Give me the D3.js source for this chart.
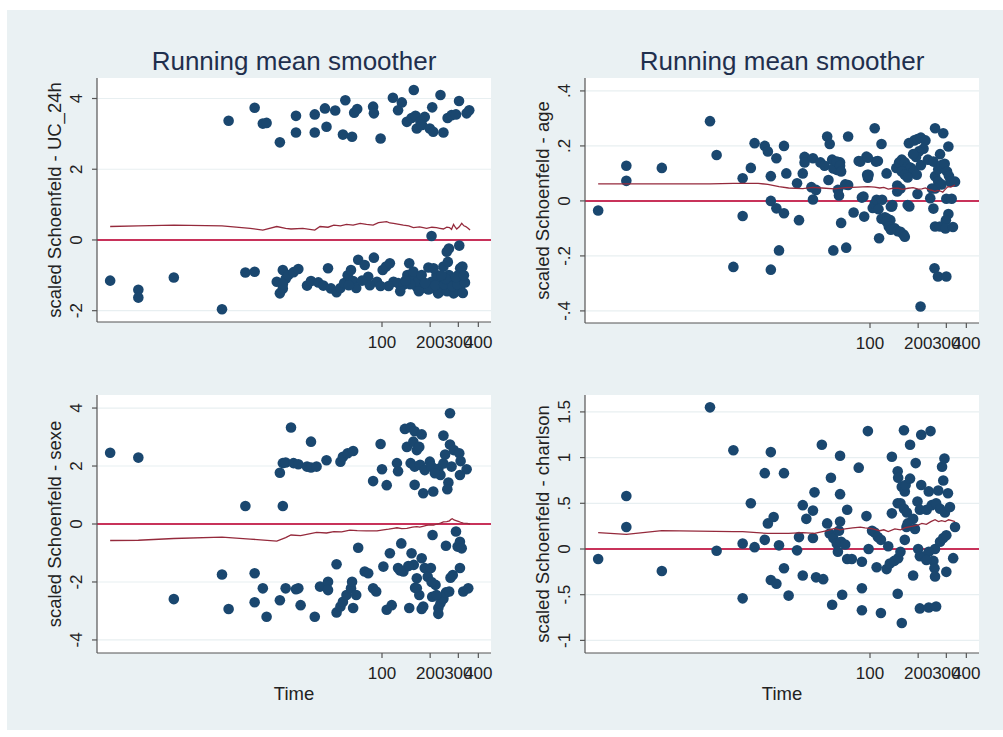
<!DOCTYPE html>
<html>
<head>
<meta charset="utf-8">
<script src="https://cdn.jsdelivr.net/npm/d3@7"></script>
<style>
html, body { margin: 0; padding: 0; background: #fff; }
svg { display: block; font-family: "Liberation Sans", Arial, Helvetica, sans-serif; }
</style>
</head>
<body>
<svg id="chart" width="1003" height="737"></svg>
<script>
// ---- data: [time, scaled Schoenfeld residual] ----
var ucPoints = [
  [2,-1.15],[3,-1.41],[3,-1.63],[5,-1.06],[10,-1.96],[11,3.37],[14,-0.92],[16,-0.9],[16,3.74],[18,3.29],[19,3.31],
  [23,2.76],[29,3.51],[29,3.04],[38,3.55],[38,3.04],[44,3.72],[45,3.2],[51,3.66],[59,3.95],[57,2.98],[65,2.92],
  [67,3.6],[70,3.7],[88,3.77],[89,3.58],[98,2.87],[117,4.02],[133,3.89],[126,3.67],[158,4.24],[143,3.34],[153,3.45],
  [162,3.51],[165,3.15],[174,3.34],[185,3.48],[178,3.25],[206,3.75],[232,4.1],[199,3.15],[209,3.06],[242,3.04],
  [257,3.45],[272,3.53],[290,3.55],[303,3.93],[338,3.58],[351,3.67],
  [24,-0.85],[22,-1.18],[24,-1.37],[23,-1.51],[25,-1.1],[26,-0.99],[28,-0.91],[30,-0.82],[24,-1.25],[34,-1.29],
  [36,-1.16],[40,-1.2],[43,-1.29],[46,-0.8],[48,-1.37],[52,-1.48],[55,-1.36],[58,-1.22],[61,-1.0],[64,-0.85],
  [66,-1.16],[69,-1.36],[71,-0.56],[78,-0.71],[82,-1.04],[89,-0.5],[93,-1.18],[101,-0.85],[106,-0.75],[112,-0.66],
  [118,-1.18],[126,-1.22],[136,-1.27],[148,-0.66],[144,-0.99],[157,-1.08],[157,-0.89],[165,-1.32],[168,-1.18],
  [177,-0.99],[181,-1.36],[195,-0.78],[204,-1.18],[204,0.11],[210,-1.36],[219,-0.99],[224,-1.51],[232,-1.18],
  [237,-1.36],[242,-0.75],[254,-0.33],[262,-0.24],[258,-0.62],[262,-0.99],[266,-1.36],[272,-1.18],[280,-1.51],
  [304,-0.16],[308,-0.8],[312,-1.18],[318,-0.75],[308,-1.36],[300,-0.99],
  [130,-1.45],[170,-1.45],[195,-1.4],[228,-1.48],[255,-1.45],[285,-1.48],[320,-1.5],[110,-1.3],[150,-1.25],
  [186,-1.22],[215,-1.28],[245,-1.25],[275,-1.3],[296,-1.25],[330,-1.2],[315,-0.77],[210,-0.8],[250,-1.1],
  [290,-1.05],[325,-1.0],[235,-1.0],[140,-1.15],[98,-1.3],[84,-1.28],[75,-1.15],[62,-1.28]
];
var ucMean = [
  [2,0.38],[3,0.40],[5,0.42],[10,0.40],[15,0.33],[18,0.28],[22,0.38],[25,0.33],[27,0.31],[32,0.33],[38,0.28],
  [41,0.38],[46,0.36],[50,0.42],[55,0.40],[60,0.44],[66,0.42],[73,0.47],[80,0.44],[88,0.42],[95,0.49],[107,0.52],
  [112,0.48],[118,0.47],[128,0.44],[136,0.42],[147,0.40],[157,0.35],[172,0.37],[190,0.33],[205,0.36],[219,0.35],
  [230,0.33],[242,0.31],[254,0.36],[264,0.35],[272,0.30],[280,0.44],[287,0.36],[293,0.31],[304,0.37],[315,0.47],
  [325,0.40],[334,0.38],[345,0.33],[355,0.28]
];

var agePoints = [
  [2,-0.035],[3,0.128],[3,0.073],[5,0.12],[10,0.29],[11,0.167],[14,-0.24],[16,0.082],[16,-0.055],[18,0.12],
  [19,0.21],[22,0.2],[23,0.18],[24,0.09],[24,0.0],[24,-0.25],[26,0.155],[26,-0.027],[27,-0.18],[29,0.2],
  [29,-0.045],[30,0.1],[35,0.064],[36,-0.07],[38,0.1],[39,0.16],[39,0.14],[44,0.155],[43,0.05],[44,0.005],
  [46,0.04],[49,0.14],[52,0.128],[54,0.234],[56,0.207],[55,0.076],[59,-0.18],[58,0.15],[62,0.113],[63,0.04],
  [64,0.02],[65,0.14],[66,-0.08],[71,-0.17],[73,0.058],[73,0.234],[79,-0.042],[87,0.143],[91,0.016],[92,-0.057],
  [95,0.161],[96,0.095],[97,0.084],[107,0.264],[109,0.143],[104,-0.026],[107,-0.01],[110,0.004],[114,-0.136],
  [118,0.207],[119,0.004],[127,0.1],[127,-0.063],[137,-0.02],[134,-0.07],
  [113,-0.03],[118,-0.065],[124,-0.06],[127,-0.075],[131,-0.093],[135,-0.105],[143,-0.1],[149,-0.11],[155,-0.112],
  [162,-0.122],[165,-0.13],[135,-0.02],[138,-0.015],[148,0.034],[148,0.056],[155,0.045],[146,0.12],[152,0.14],
  [158,0.15],[165,0.14],[172,0.125],[180,0.12],[188,0.11],[196,0.095],[158,0.107],[165,0.095],[172,0.085],
  [172,-0.015],[176,-0.02],[198,0.025],[175,0.21],[189,0.22],[198,0.225],[208,0.23],[222,0.22],[216,0.19],
  [202,0.18],[194,0.16],[186,0.17],[208,0.13],[230,0.15],[249,0.143],[255,0.264],[287,0.246],[255,0.09],
  [267,0.115],[280,0.13],[293,0.135],[303,0.107],[312,0.09],[318,0.07],[340,0.07],[274,0.17],[309,0.198],
  [267,0.07],[280,0.06],[255,0.045],[244,0.045],[238,0.01],[249,-0.028],[300,0.008],[324,0.008],[309,-0.048],
  [298,-0.07],[255,-0.093],[274,-0.093],[296,-0.1],[330,-0.095],[253,-0.245],[266,-0.275],[300,-0.275],[207,-0.384],
  [59,0.118],[62,0.143],[65,0.128],[66,0.107],[70,0.06],[89,0.012],[85,0.145],[97,0.157],[98,0.095],[112,0.145]
];
var ageMean = [
  [2,0.062],[10,0.062],[14,0.064],[20,0.064],[23,0.06],[27,0.052],[31,0.047],[38,0.045],[44,0.049],[50,0.047],
  [60,0.044],[70,0.048],[84,0.05],[97,0.052],[107,0.05],[115,0.047],[122,0.049],[130,0.043],[140,0.046],
  [150,0.046],[160,0.042],[173,0.046],[186,0.048],[200,0.043],[211,0.044],[222,0.047],[235,0.04],[245,0.038],
  [255,0.034],[265,0.038],[275,0.036],[285,0.032],[295,0.042],[307,0.052],[320,0.05],[340,0.058]
];

var sexePoints = [
  [2,2.46],[3,2.29],[5,-2.59],[10,-1.74],[11,-2.93],[14,0.62],[16,-1.7],[18,-2.22],[16,-2.7],[19,-3.2],[23,-2.63],
  [25,-2.22],[30,-2.22],[31,-2.8],[38,-3.2],[27,3.33],[36,2.84],[23,1.77],[24,0.62],[24,2.1],[25,2.12],[28,2.1],
  [30,2.06],[34,1.98],[36,1.95],[39,1.98],[45,2.2],[55,2.15],[57,2.32],[61,2.44],[66,2.52],[98,2.76],[88,1.48],
  [100,1.89],[107,1.34],[124,2.1],[126,1.82],[139,3.28],[151,3.34],[160,3.2],[177,3.09],[143,2.66],[157,2.84],
  [165,2.55],[171,2.66],[151,2.1],[160,1.98],[173,2.04],[185,1.86],[199,2.15],[204,1.98],[160,1.35],[181,1.06],
  [209,1.12],[225,1.9],[242,2.09],[248,2.4],[266,2.74],[281,2.55],[304,2.44],[310,2.17],[272,1.98],[260,1.43],
  [256,1.2],[242,3.05],[266,3.82],[338,1.89],[307,1.69],[232,1.69],[214,1.75],
  [29,-2.25],[41,-2.16],[46,-1.99],[46,-2.28],[52,-1.39],[52,-3.05],[55,-2.85],[57,-2.68],[60,-2.45],[64,-2.22],
  [65,-1.99],[66,-2.9],[69,-2.45],[71,-0.82],[78,-1.64],[82,-1.7],[88,-2.22],[92,-2.33],[102,-1.47],[107,-2.96],
  [115,-2.8],[112,-1.01],[132,-0.67],[136,-1.64],[148,-2.9],[153,-1.01],[158,-1.41],[165,-1.87],[165,-2.22],
  [171,-2.45],[177,-1.18],[181,-2.85],[185,-1.52],[193,-1.82],[202,-1.52],[206,-2.51],[207,-0.38],[216,-2.1],
  [225,-2.9],[232,-2.73],[242,-2.58],[251,-2.36],[251,-0.75],[263,-2.33],[268,-1.85],[277,-1.76],[290,-0.26],
  [297,-0.78],[307,-0.61],[315,-0.84],[307,-1.52],[322,-2.33],[346,-2.22],[219,-2.45],[204,-2.0],[161,-2.2],
  [146,-1.45],[126,-1.52],[130,-1.6],[177,-2.93],[225,-3.1]
];
var sexeMean = [
  [2,-0.57],[3,-0.56],[5,-0.5],[10,-0.45],[15,-0.52],[22,-0.59],[25,-0.47],[27,-0.38],[31,-0.4],[39,-0.29],
  [45,-0.31],[50,-0.26],[56,-0.27],[63,-0.21],[70,-0.23],[80,-0.24],[93,-0.24],[102,-0.2],[110,-0.18],[118,-0.15],
  [124,-0.13],[133,-0.16],[143,-0.15],[155,-0.11],[165,-0.09],[172,-0.11],[180,-0.08],[190,-0.05],[200,-0.03],
  [210,-0.04],[221,0.0],[232,0.03],[242,0.07],[254,0.08],[264,0.11],[270,0.16],[275,0.18],[282,0.14],[290,0.12],
  [300,0.09],[310,0.06],[322,0.03],[340,0.02],[355,0.0]
];

var charlsonPoints = [
  [2,-0.11],[3,0.58],[3,0.24],[5,-0.24],[10,1.55],[11,-0.02],[14,1.08],[18,0.5],[16,0.06],[19,0.02],[16,-0.54],
  [24,1.06],[22,0.83],[29,0.83],[23,0.28],[25,0.35],[22,0.1],[27,0.04],[24,-0.34],[26,-0.38],[29,-0.21],[31,-0.51],
  [35,-0.015],[36,0.13],[38,0.48],[40,0.33],[44,0.42],[45,0.62],[38,-0.29],[44,0.12],[46,-0.31],[51,-0.33],
  [50,1.14],[57,0.78],[54,0.28],[56,0.17],[59,0.12],[62,0.06],[63,-0.03],[58,-0.61],[65,1.02],[65,0.6],[65,0.3],
  [64,0.2],[67,-0.5],[72,0.43],[66,0.08],[70,0.05],[72,-0.11],[77,-0.11],[85,0.89],[89,-0.14],[89,-0.43],
  [89,-0.67],[97,1.29],[95,0.36],[98,0.0],[103,0.2],[107,0.18],[112,0.13],[117,0.1],[110,-0.2],[117,-0.7],
  [127,-0.22],[133,-0.16],[142,-0.13],[150,-0.1],[130,0.03],[137,1.01],[149,0.85],[150,0.78],[158,0.68],
  [165,0.63],[149,0.5],[155,0.5],[163,0.44],[170,0.4],[137,0.39],[149,-0.49],[155,-0.03],[165,0.1],[158,-0.81],
  [163,1.3],[178,1.14],[193,0.94],[209,1.25],[239,1.29],[167,0.7],[178,0.77],[186,0.33],[191,0.22],[169,0.24],
  [172,0.28],[209,0.7],[198,0.52],[205,0.43],[200,0.0],[205,-0.08],[220,-0.08],[186,-0.29],[205,-0.65],
  [233,-0.64],[259,-0.63],[226,0.43],[243,0.48],[259,0.5],[274,0.44],[294,0.4],[316,0.46],[233,0.63],[267,0.64],
  [287,0.75],[282,0.9],[292,0.99],[307,0.61],[255,0.0],[274,0.08],[287,0.12],[300,0.15],[249,-0.13],[233,-0.03],
  [225,-0.12],[253,-0.21],[255,-0.3],[331,-0.1],[300,-0.25],[340,0.24]
];
var charlsonMean = [
  [2,0.18],[3,0.16],[5,0.2],[14,0.19],[16,0.19],[23,0.17],[31,0.17],[38,0.18],[45,0.17],[54,0.2],[60,0.225],
  [65,0.21],[70,0.22],[78,0.23],[87,0.24],[93,0.23],[100,0.225],[107,0.215],[115,0.2],[122,0.21],[130,0.19],
  [143,0.22],[155,0.21],[165,0.23],[173,0.24],[186,0.25],[198,0.26],[211,0.28],[225,0.27],[240,0.3],[255,0.32],
  [268,0.3],[280,0.31],[295,0.3],[310,0.32],[325,0.31],[340,0.3]
];

// axis ticks
var timeTicks = [100, 200, 300, 400];
var ucTicks = [-2, 0, 2, 4];
var ageTicks = [-0.4, -0.2, 0, 0.2, 0.4];
var sexeTicks = [-4, -2, 0, 2, 4];
var charlsonTicks = [-1, -0.5, 0, 0.5, 1, 1.5];

var titleText = "Running mean smoother";
var timeLabel = "Time";

// ---- layout ----
var panels = [
  {ylab: "scaled Schoenfeld - UC_24h", pts: ucPoints, mean: ucMean, ticks: ucTicks, ydom: [-2.32, 4.58],
   left: 97, top: 78, bottom: 322, title: true, xtitle: false},
  {ylab: "scaled Schoenfeld - age", pts: agePoints, mean: ageMean, ticks: ageTicks, ydom: [-0.444, 0.447],
   left: 585, top: 78, bottom: 323, title: true, xtitle: false},
  {ylab: "scaled Schoenfeld - sexe", pts: sexePoints, mean: sexeMean, ticks: sexeTicks, ydom: [-4.45, 4.45],
   left: 97, top: 395, bottom: 653, title: false, xtitle: true},
  {ylab: "scaled Schoenfeld - charlson", pts: charlsonPoints, mean: charlsonMean, ticks: charlsonTicks, ydom: [-1.138, 1.685],
   left: 585, top: 395, bottom: 653, title: false, xtitle: true}
];
var plotW = 394;

var navy = "#1a476f";
var svg = d3.select("#chart");

svg.append("rect").attr("x", 7).attr("y", 10).attr("width", 996).attr("height", 720)
  .attr("fill", "#eaf1f3");

function stataNum(v) {
  // Stata drops the leading zero: 0.4 -> .4, -0.5 -> -.5
  return String(+v.toFixed(2)).replace(/^(-?)0\./, "$1.");
}

panels.forEach(function(p) {
  var x = d3.scaleLog().domain([1.655, 480]).range([p.left, p.left + plotW]);
  var y = d3.scaleLinear().domain(p.ydom).range([p.bottom, p.top]);
  var g = svg.append("g");
  var cx = p.left + plotW / 2;

  g.append("rect").attr("x", p.left).attr("y", p.top)
    .attr("width", plotW).attr("height", p.bottom - p.top).attr("fill", "#fff");

  // grid
  g.selectAll(".grid").data(p.ticks).enter().append("line")
    .attr("x1", p.left).attr("x2", p.left + plotW)
    .attr("y1", d => y(d)).attr("y2", d => y(d))
    .attr("stroke", "#e8eff1").attr("stroke-width", 1.2);

  // reference line at 0
  g.append("line").attr("x1", p.left).attr("x2", p.left + plotW)
    .attr("y1", y(0)).attr("y2", y(0))
    .attr("stroke", "#c8325a").attr("stroke-width", 2);

  // residuals
  g.selectAll(".dot").data(p.pts).enter().append("circle")
    .attr("cx", d => x(d[0])).attr("cy", d => y(d[1])).attr("r", 5.3)
    .attr("fill", navy);

  // running mean
  var line = d3.line().x(d => x(d[0])).y(d => y(d[1]));
  g.append("path").datum(p.mean).attr("d", line)
    .attr("fill", "none").attr("stroke", "#952a3c").attr("stroke-width", 1.3);

  // axes
  var ax = g.append("g").attr("stroke", "#555").attr("stroke-width", 1.2);
  ax.append("line").attr("x1", p.left).attr("x2", p.left).attr("y1", p.top).attr("y2", p.bottom);
  ax.append("line").attr("x1", p.left).attr("x2", p.left + plotW).attr("y1", p.bottom).attr("y2", p.bottom);
  ax.selectAll(".xt").data(timeTicks).enter().append("line")
    .attr("x1", d => x(d)).attr("x2", d => x(d)).attr("y1", p.bottom).attr("y2", p.bottom + 5);
  ax.selectAll(".yt").data(p.ticks).enter().append("line")
    .attr("x1", p.left - 5).attr("x2", p.left).attr("y1", d => y(d)).attr("y2", d => y(d));

  g.selectAll(".xl").data(timeTicks).enter().append("text")
    .attr("x", d => x(d)).attr("y", p.bottom + 26)
    .attr("text-anchor", "middle").attr("font-size", 17).attr("fill", "#222")
    .text(d => d);

  g.selectAll(".yl").data(p.ticks).enter().append("text")
    .attr("transform", d => "translate(" + (p.left - 15) + "," + y(d) + ") rotate(-90)")
    .attr("text-anchor", "middle").attr("font-size", 17).attr("fill", "#222")
    .text(stataNum);

  g.append("text")
    .attr("transform", "translate(" + (p.left - 36) + "," + ((p.top + p.bottom) / 2) + ") rotate(-90)")
    .attr("text-anchor", "middle").attr("font-size", 18.5).attr("fill", "#222")
    .text(p.ylab);

  if (p.title) {
    g.append("text").attr("x", cx).attr("y", 70)
      .attr("text-anchor", "middle").attr("font-size", 26).attr("fill", "#1f2f4d")
      .text(titleText);
  }
  if (p.xtitle) {
    g.append("text").attr("x", cx).attr("y", p.bottom + 47)
      .attr("text-anchor", "middle").attr("font-size", 18.5).attr("fill", "#222")
      .text(timeLabel);
  }
});
</script>
</body>
</html>
